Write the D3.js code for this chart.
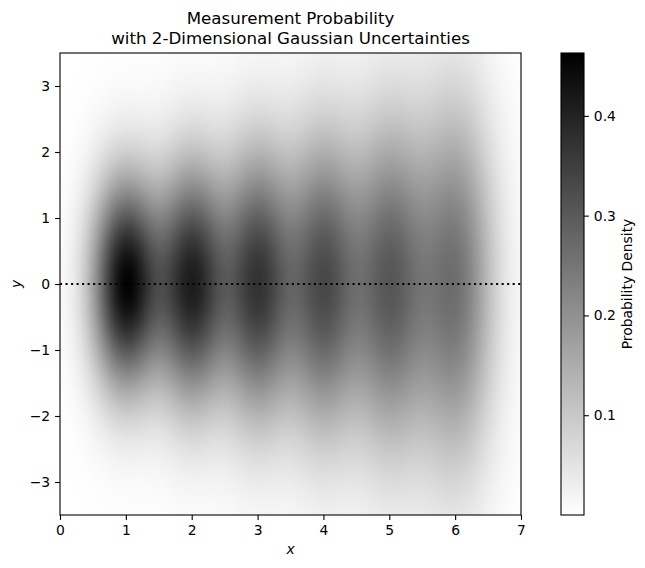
<!DOCTYPE html>
<html>
<head>
<meta charset="utf-8">
<script src="https://cdn.jsdelivr.net/npm/d3@7"></script>
<style>
body { margin: 0; background: #fff; }
svg { font-family: "DejaVu Sans", sans-serif; }
</style>
</head>
<body>
<svg id="chart" width="645" height="568"></svg>
<script>
const centersX = [1, 2, 3, 4, 5, 6];
const centersY = [0, 0, 0, 0, 0, 0];
const peakDensity = [0.447, 0.392, 0.35, 0.31, 0.28, 0.252];
const sigmaX = [0.36, 0.37, 0.38, 0.39, 0.40, 0.42];
const sigmaY = [1.10, 1.25, 1.40, 1.55, 1.70, 1.90];

const xDomain = [0, 7];
const yDomain = [-3.5, 3.5];
const densityRange = [0, 0.463];
const xTicks = [0, 1, 2, 3, 4, 5, 6, 7];
const yTicks = [-3, -2, -1, 0, 1, 2, 3];
const cbarTicks = [0.1, 0.2, 0.3, 0.4];

var margin = { left: 60, top: 53, right: 521, bottom: 515 };
var cbar = { left: 561, right: 584 };
var tickLen = 4.9, tickPad = 4.9;
var tickFont = 13.9;

var svg = d3.select("#chart");

var x = d3.scaleLinear().domain(xDomain).range([margin.left, margin.right]);
var y = d3.scaleLinear().domain(yDomain).range([margin.bottom, margin.top]);
var color = d3.scaleLinear().domain(densityRange).range(["#ffffff", "#000000"]).clamp(true);

function density(px, py) {
    var s = 0;
    for (var i = 0; i < centersX.length; i++) {
        var dx = (px - centersX[i]) / sigmaX[i];
        var dy = (py - centersY[i]) / sigmaY[i];
        s += peakDensity[i] * Math.exp(-0.5 * (dx * dx + dy * dy));
    }
    return s;
}

// raster the density field onto a canvas, then drop it into the svg
var w = Math.round(margin.right - margin.left);
var h = Math.round(margin.bottom - margin.top);
var canvas = document.createElement("canvas");
canvas.width = w;
canvas.height = h;
var ctx = canvas.getContext("2d");
var img = ctx.createImageData(w, h);
for (var j = 0; j < h; j++) {
    var yv = y.invert(margin.top + j + 0.5);
    for (var i = 0; i < w; i++) {
        var xv = x.invert(margin.left + i + 0.5);
        var c = d3.rgb(color(density(xv, yv)));
        var k = (j * w + i) * 4;
        img.data[k] = c.r;
        img.data[k + 1] = c.g;
        img.data[k + 2] = c.b;
        img.data[k + 3] = 255;
    }
}
ctx.putImageData(img, 0, 0);

svg.append("image")
    .attr("x", margin.left)
    .attr("y", margin.top)
    .attr("width", w)
    .attr("height", h)
    .attr("href", canvas.toDataURL());

// dotted line at y = 0
svg.append("line")
    .attr("x1", x(xDomain[0]))
    .attr("x2", x(xDomain[1]))
    .attr("y1", y(0))
    .attr("y2", y(0))
    .attr("stroke", "#000")
    .attr("stroke-width", 2.08)
    .attr("stroke-dasharray", "2.08,3.44");

// axes
var xAxis = d3.axisBottom(x).tickValues(xTicks).tickSize(tickLen).tickPadding(tickPad).tickFormat(d3.format("d"));
var yAxis = d3.axisLeft(y).tickValues(yTicks).tickSize(tickLen).tickPadding(tickPad).tickFormat(d3.format("d"));

var gx = svg.append("g")
    .attr("transform", `translate(0,${margin.bottom})`)
    .call(xAxis);
var gy = svg.append("g")
    .attr("transform", `translate(${margin.left},0)`)
    .call(yAxis);

[gx, gy].forEach(g => {
    g.select(".domain").remove();
    g.selectAll(".tick line").attr("stroke", "#000").attr("stroke-width", 1.1);
    g.selectAll(".tick text")
        .attr("fill", "#000")
        .style("font-size", tickFont + "px")
        .style("font-family", "DejaVu Sans");
});

// frame
svg.append("rect")
    .attr("x", margin.left)
    .attr("y", margin.top)
    .attr("width", margin.right - margin.left)
    .attr("height", margin.bottom - margin.top)
    .attr("fill", "none")
    .attr("stroke", "#000")
    .attr("stroke-width", 1.1);

// axis labels
svg.append("text")
    .attr("x", (margin.left + margin.right) / 2)
    .attr("y", 554)
    .attr("text-anchor", "middle")
    .style("font-size", tickFont + "px")
    .style("font-style", "italic")
    .text("x");

svg.append("text")
    .attr("transform", `translate(21,${(margin.top + margin.bottom) / 2}) rotate(-90)`)
    .attr("text-anchor", "middle")
    .style("font-size", tickFont + "px")
    .style("font-style", "italic")
    .text("y");

// title, two lines
var title = svg.append("text")
    .attr("text-anchor", "middle")
    .style("font-size", "16.67px");
title.append("tspan")
    .attr("x", (margin.left + margin.right) / 2)
    .attr("y", 24)
    .text("Measurement Probability");
title.append("tspan")
    .attr("x", (margin.left + margin.right) / 2)
    .attr("y", 44)
    .text("with 2-Dimensional Gaussian Uncertainties");

// colorbar
var c = d3.scaleLinear().domain(densityRange).range([margin.bottom, margin.top]);

var grad = svg.append("defs").append("linearGradient")
    .attr("id", "cbGrad")
    .attr("x1", 0).attr("x2", 0).attr("y1", 1).attr("y2", 0);
grad.append("stop").attr("offset", 0).attr("stop-color", color(densityRange[0]));
grad.append("stop").attr("offset", 1).attr("stop-color", color(densityRange[1]));

svg.append("rect")
    .attr("x", cbar.left)
    .attr("y", margin.top)
    .attr("width", cbar.right - cbar.left)
    .attr("height", margin.bottom - margin.top)
    .attr("fill", "url(#cbGrad)")
    .attr("stroke", "#000")
    .attr("stroke-width", 1.1);

var gc = svg.append("g")
    .attr("transform", `translate(${cbar.right},0)`)
    .call(d3.axisRight(c).tickValues(cbarTicks).tickSize(tickLen).tickPadding(tickPad).tickFormat(d3.format(".1f")));
gc.select(".domain").remove();
gc.selectAll(".tick line").attr("stroke", "#000").attr("stroke-width", 1.1);
gc.selectAll(".tick text")
    .attr("fill", "#000")
    .style("font-size", tickFont + "px")
    .style("font-family", "DejaVu Sans");

svg.append("text")
    .attr("transform", `translate(632,${(margin.top + margin.bottom) / 2}) rotate(-90)`)
    .attr("text-anchor", "middle")
    .style("font-size", tickFont + "px")
    .text("Probability Density");
</script>
</body>
</html>
